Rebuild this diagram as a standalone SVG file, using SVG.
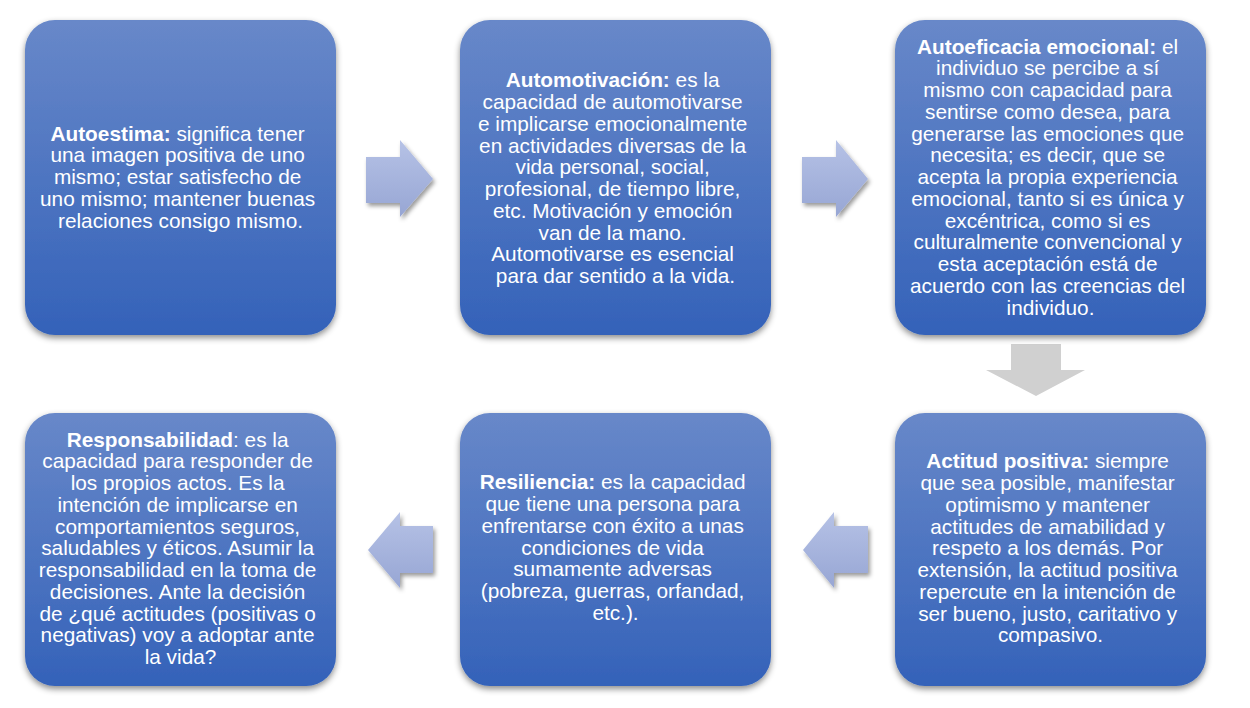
<svg xmlns="http://www.w3.org/2000/svg" width="1250" height="708" viewBox="0 0 1250 708">
<defs>
<linearGradient id="boxg" x1="0" y1="0" x2="0" y2="1">
<stop offset="0" stop-color="#6888c9"/>
<stop offset="1" stop-color="#3462b9"/>
</linearGradient>
<linearGradient id="arrg" x1="0" y1="0" x2="0" y2="1">
<stop offset="0" stop-color="#b6c2e6"/>
<stop offset="1" stop-color="#97a6d4"/>
</linearGradient>
<filter id="sh" x="-10%" y="-10%" width="125%" height="125%">
<feDropShadow dx="0" dy="3" stdDeviation="3" flood-color="#000" flood-opacity="0.45"/>
</filter>
<filter id="ash" x="-20%" y="-20%" width="150%" height="150%">
<feDropShadow dx="2" dy="3" stdDeviation="2" flood-color="#000" flood-opacity="0.4"/>
</filter>
</defs>
<style>
.box{fill:url(#boxg);filter:url(#sh);}
.t{font-family:"Liberation Sans",Arial,Helvetica,sans-serif;font-size:20.8px;fill:#ffffff;text-anchor:middle;}
.b{font-weight:bold;}
.arr{fill:url(#arrg);filter:url(#ash);}
.darr{fill:#d0d0d0;}
</style>
<rect width="1250" height="708" fill="#ffffff"/>

<g id="connectors">
<path class="arr" d="M366,157 H400 V140 L433,179 L400,217 V203 H366 Z"/>
<path class="arr" d="M802,157 H836 V140 L868,179 L836,217 V203 H802 Z"/>
<path class="darr" d="M1011,344 H1061 V370 H1085 L1036,396 L986,370 H1011 Z"/>
<path class="arr" d="M868,526 H834 V512 L803,550 L834,588 V573 H868 Z"/>
<path class="arr" d="M433,526 H400 V512 L368,550 L400,588 V573 H433 Z"/>
</g>

<g id="n1">
<rect class="box" x="25" y="20" width="311" height="315" rx="30"/>
<text class="t">
<tspan x="180.5" y="140.5"><tspan class="b">Autoestima:</tspan> significa tener</tspan>
<tspan x="180.5" y="162.3">una imagen positiva de uno</tspan>
<tspan x="180.5" y="184">mismo; estar satisfecho de</tspan>
<tspan x="180.5" y="205.8">uno mismo; mantener buenas</tspan>
<tspan x="180.5" y="227.5">relaciones consigo mismo.</tspan>
</text>
</g>

<g id="n2">
<rect class="box" x="460" y="20" width="311" height="315" rx="30"/>
<text class="t">
<tspan x="615.5" y="87.3"><tspan class="b">Automotivación:</tspan> es la</tspan>
<tspan x="615.5" y="109">capacidad de automotivarse</tspan>
<tspan x="615.5" y="130.8">e implicarse emocionalmente</tspan>
<tspan x="615.5" y="152.5">en actividades diversas de la</tspan>
<tspan x="615.5" y="174.3">vida personal, social,</tspan>
<tspan x="615.5" y="196">profesional, de tiempo libre,</tspan>
<tspan x="615.5" y="217.8">etc. Motivación y emoción</tspan>
<tspan x="615.5" y="239.5">van de la mano.</tspan>
<tspan x="615.5" y="261.3">Automotivarse es esencial</tspan>
<tspan x="615.5" y="283">para dar sentido a la vida.</tspan>
</text>
</g>

<g id="n3">
<rect class="box" x="895" y="20" width="311" height="315" rx="30"/>
<text class="t">
<tspan x="1050.5" y="53.5"><tspan class="b">Autoeficacia emocional:</tspan> el</tspan>
<tspan x="1050.5" y="75.3">individuo se percibe a sí</tspan>
<tspan x="1050.5" y="97">mismo con capacidad para</tspan>
<tspan x="1050.5" y="118.8">sentirse como desea, para</tspan>
<tspan x="1050.5" y="140.5">generarse las emociones que</tspan>
<tspan x="1050.5" y="162.3">necesita; es decir, que se</tspan>
<tspan x="1050.5" y="184">acepta la propia experiencia</tspan>
<tspan x="1050.5" y="205.8">emocional, tanto si es única y</tspan>
<tspan x="1050.5" y="227.5">excéntrica, como si es</tspan>
<tspan x="1050.5" y="249.3">culturalmente convencional y</tspan>
<tspan x="1050.5" y="271">esta aceptación está de</tspan>
<tspan x="1050.5" y="292.8">acuerdo con las creencias del</tspan>
<tspan x="1050.5" y="314.5">individuo.</tspan>
</text>
</g>

<g id="n4">
<rect class="box" x="895" y="413" width="311" height="273" rx="30"/>
<text class="t">
<tspan x="1050.5" y="468.3"><tspan class="b">Actitud positiva:</tspan> siempre</tspan>
<tspan x="1050.5" y="490">que sea posible, manifestar</tspan>
<tspan x="1050.5" y="511.8">optimismo y mantener</tspan>
<tspan x="1050.5" y="533.5">actitudes de amabilidad y</tspan>
<tspan x="1050.5" y="555.3">respeto a los demás. Por</tspan>
<tspan x="1050.5" y="577">extensión, la actitud positiva</tspan>
<tspan x="1050.5" y="598.8">repercute en la intención de</tspan>
<tspan x="1050.5" y="620.5">ser bueno, justo, caritativo y</tspan>
<tspan x="1050.5" y="642.3">compasivo.</tspan>
</text>
</g>

<g id="n5">
<rect class="box" x="460" y="413" width="311" height="273" rx="30"/>
<text class="t">
<tspan x="615.5" y="489.3"><tspan class="b">Resiliencia:</tspan> es la capacidad</tspan>
<tspan x="615.5" y="511">que tiene una persona para</tspan>
<tspan x="615.5" y="532.8">enfrentarse con éxito a unas</tspan>
<tspan x="615.5" y="554.5">condiciones de vida</tspan>
<tspan x="615.5" y="576.3">sumamente adversas</tspan>
<tspan x="615.5" y="598">(pobreza, guerras, orfandad,</tspan>
<tspan x="615.5" y="619.8">etc.).</tspan>
</text>
</g>

<g id="n6">
<rect class="box" x="25" y="413" width="311" height="273" rx="30"/>
<text class="t">
<tspan x="180.5" y="446.7"><tspan class="b">Responsabilidad</tspan>: es la</tspan>
<tspan x="180.5" y="468.4">capacidad para responder de</tspan>
<tspan x="180.5" y="490.2">los propios actos. Es la</tspan>
<tspan x="180.5" y="511.9">intención de implicarse en</tspan>
<tspan x="180.5" y="533.7">comportamientos seguros,</tspan>
<tspan x="180.5" y="555.4">saludables y éticos. Asumir la</tspan>
<tspan x="180.5" y="577.2">responsabilidad en la toma de</tspan>
<tspan x="180.5" y="598.9">decisiones. Ante la decisión</tspan>
<tspan x="180.5" y="620.7">de ¿qué actitudes (positivas o</tspan>
<tspan x="180.5" y="642.4">negativas) voy a adoptar ante</tspan>
<tspan x="180.5" y="664.2">la vida?</tspan>
</text>
</g>
</svg>
